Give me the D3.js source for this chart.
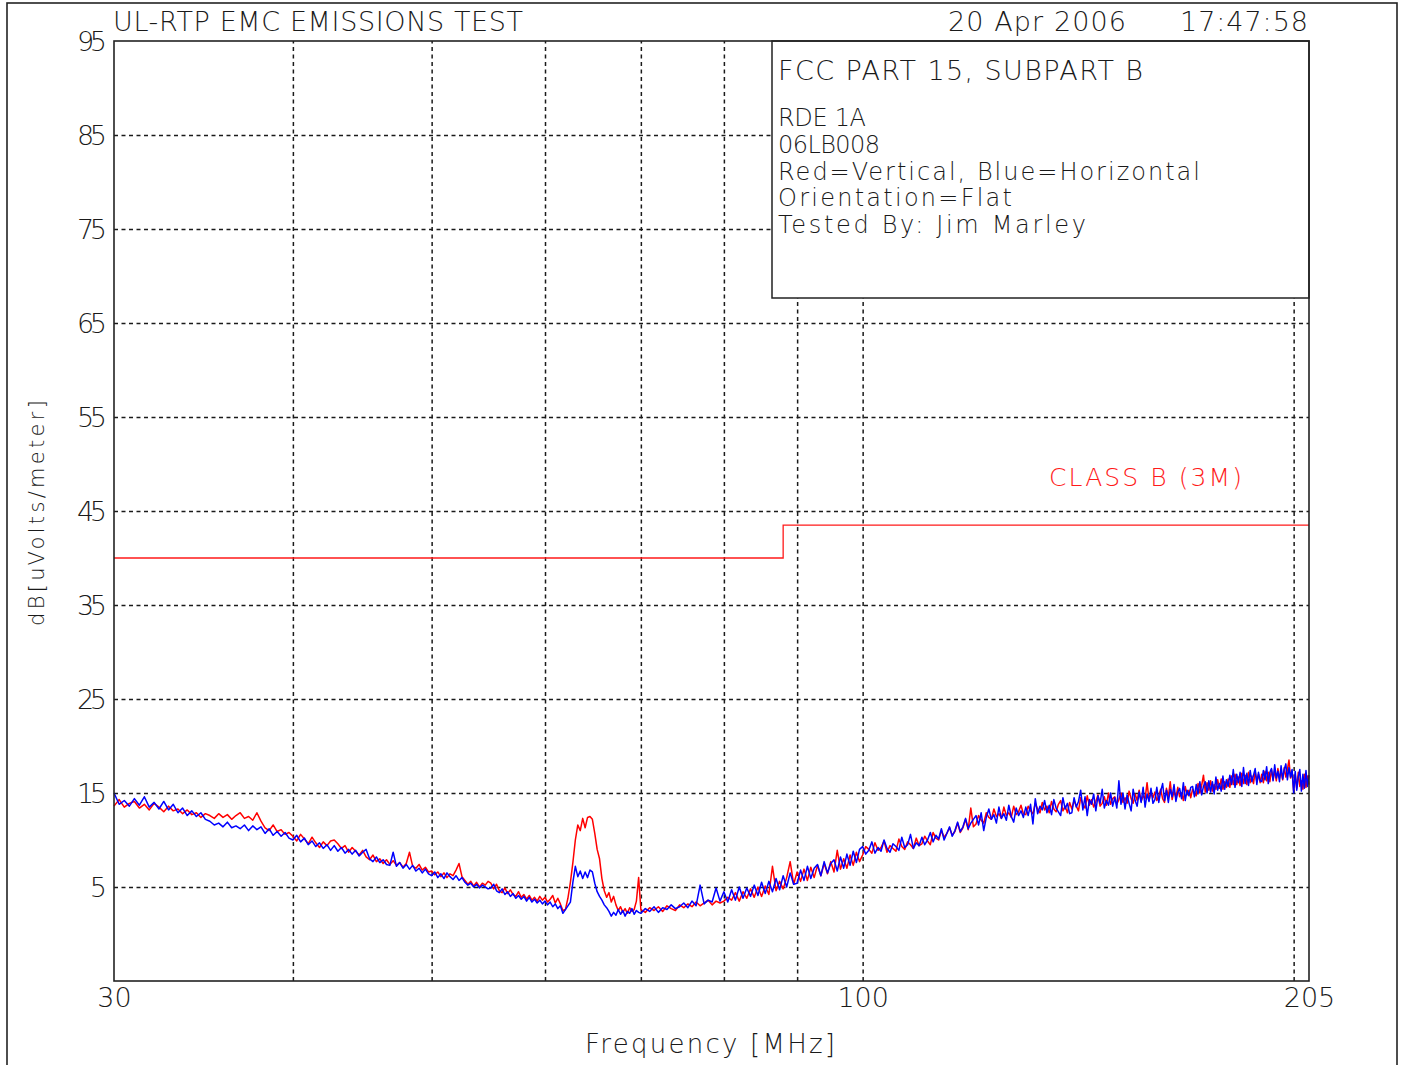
<!DOCTYPE html>
<html><head><meta charset="utf-8">
<script src="https://cdn.jsdelivr.net/npm/d3@7"></script>
<style>
html,body{margin:0;padding:0;background:#fff;}
svg{display:block;}
text{font-family:"DejaVu Sans",sans-serif;font-weight:200;fill:#1a1a1a;}
</style></head><body>
<svg id="chart" width="1401" height="1065"></svg>
<script>
// Receiver sweep: 0.25 MHz steps up to 70 MHz, 0.5 MHz steps above
const sweepFine = {start: 30, step: 0.25, count: 160};
const sweepCoarse = {start: 70, step: 0.5, count: 271};

// Vertical antenna polarisation, dBuV/m
const redFine = [
  13.6,14.3,13.5,13.9,14.1,13.4,13.8,13.2,13.9,13.5,13.0,13.6,13.1,13.3,12.8,13.2,12.7,12.9,12.4,12.8,
  12.6,12.3,12.8,12.4,12.7,12.2,12.6,12.9,12.3,12.5,12.1,12.9,12.0,11.3,11.0,11.6,10.9,11.1,10.6,10.8,
  10.4,9.9,10.6,10.1,9.6,10.3,9.7,9.2,9.8,9.4,9.9,10.0,9.6,9.1,9.4,8.7,9.2,8.8,8.4,8.9,
  8.2,7.9,8.4,7.7,8.0,7.5,7.9,7.4,7.8,7.3,7.6,7.1,7.5,8.7,7.2,7.0,7.4,6.8,7.1,6.6,
  6.7,6.3,6.6,6.1,6.5,6.0,6.4,6.2,6.8,7.5,6.1,5.7,5.3,5.6,5.1,5.5,5.0,5.4,5.2,5.6,
  5.4,4.8,5.3,4.6,4.4,4.9,4.3,4.7,4.2,4.0,4.5,3.9,4.2,3.7,4.1,3.6,3.9,3.5,4.0,3.6,
  3.9,3.4,3.7,4.1,3.3,3.8,3.2,2.5,2.6,3.8,5.5,7.6,10.0,11.6,11.0,12.3,11.3,12.4,12.5,12.2,
  10.7,9.0,8.0,5.9,4.6,3.9,4.4,3.4,4.0,3.1,2.5,2.9,2.3,2.7,2.2,2.8,2.4,2.6,3.5,6.0
];
const redCoarse = [
  2.6,2.3,2.8,2.5,2.9,2.4,3.0,2.7,2.5,3.1,2.8,3.2,2.9,3.4,3.0,3.3,3.6,3.1,3.5,3.3,
  3.5,3.9,3.6,4.4,3.5,4.5,3.8,4.8,3.9,5.0,4.0,5.1,4.2,7.2,4.6,5.6,4.8,6.0,7.7,5.3,
  6.6,5.6,6.9,5.7,7.1,6.0,7.3,6.2,7.5,6.4,7.7,6.6,8.9,6.9,8.0,7.0,8.4,7.3,8.7,7.7,
  8.4,9.3,9.0,8.6,9.7,8.9,9.2,9.9,8.7,9.4,9.1,8.8,10.1,9.3,9.0,9.8,9.5,9.1,10.2,9.4,
  9.6,10.4,9.9,9.5,10.8,10.2,10.0,11.0,10.3,10.7,11.3,10.5,10.9,11.8,10.8,11.3,12.2,11.1,13.4,11.4,
  11.7,12.6,12.1,11.8,12.9,12.4,12.2,13.3,12.5,12.8,12.3,13.5,12.6,12.9,12.4,13.6,12.7,13.0,13.7,12.8,
  12.7,13.6,13.1,12.8,13.9,13.3,12.9,14.0,13.2,13.6,12.9,14.1,13.3,13.0,13.8,14.2,13.1,13.6,12.9,14.0,
  13.3,14.2,13.6,13.1,14.5,13.8,13.4,14.7,13.7,14.3,13.5,14.1,14.8,13.6,13.9,14.6,13.7,15.0,13.8,14.4,
  14.6,13.8,14.3,15.0,14.0,14.5,13.9,15.2,14.4,13.9,14.9,14.2,15.3,14.1,14.7,14.4,16.1,14.2,15.1,14.5,
  15.1,14.2,14.7,15.4,14.4,14.0,15.5,14.6,16.2,14.3,15.2,14.5,15.6,14.6,15.0,14.2,15.7,14.8,15.3,14.5,
  15.4,15.0,14.7,16.0,15.0,15.8,16.9,15.1,16.1,15.3,16.3,15.2,15.9,15.4,16.4,15.5,16.5,15.4,16.2,15.6,
  16.5,15.6,16.8,15.9,17.0,15.9,16.7,15.8,17.1,16.0,16.9,15.9,17.2,16.1,16.8,16.0,17.3,16.2,17.0,16.1,
  17.0,16.1,17.3,16.3,17.2,16.2,17.5,16.4,17.4,16.3,17.6,16.6,17.3,16.4,17.7,16.7,17.5,18.5,16.6,17.3,
  15.2,16.9,15.5,17.2,15.7,16.3,15.4,17.0,15.6,16.8,15.9
];

// Horizontal antenna polarisation, dBuV/m
const blueFine = [
  15.0,13.8,14.2,13.6,14.4,13.7,14.6,13.5,14.0,13.3,14.1,13.2,13.8,12.9,13.4,12.6,13.1,12.5,12.9,12.2,
  12.0,11.6,11.8,11.4,11.9,11.3,11.5,11.2,11.6,11.0,11.5,11.1,11.4,10.7,11.2,10.5,10.9,10.4,10.8,10.2,
  10.0,10.5,9.8,10.2,9.5,9.9,9.3,9.7,9.1,9.5,8.9,9.4,8.8,9.2,8.6,9.0,8.5,8.9,8.3,8.7,
  9.0,8.0,7.7,8.2,7.6,7.9,7.4,7.3,8.7,7.2,7.6,7.0,7.4,6.9,7.3,6.7,7.0,6.5,6.9,6.4,
  6.2,6.6,6.0,6.4,5.9,6.5,6.1,5.8,6.2,5.7,6.0,5.5,5.2,5.4,5.0,5.3,4.9,5.2,5.0,4.8,
  4.9,5.3,4.6,4.4,4.8,4.2,4.5,4.0,4.3,3.8,4.1,3.7,4.0,3.5,3.9,3.4,3.7,3.3,3.6,3.2,
  3.5,3.1,3.4,2.9,3.2,2.7,3.0,2.2,2.6,3.0,3.4,5.5,7.2,6.1,6.7,5.9,6.6,6.0,6.8,6.6,
  5.4,4.5,4.0,3.6,3.1,2.8,2.4,1.9,2.3,2.0,2.6,2.1,2.5,1.9,2.4,2.2,2.7,2.1,2.5,2.3
];
const blueCoarse = [
  2.2,2.7,2.4,2.9,2.3,2.8,2.6,3.1,2.7,2.9,3.3,2.8,3.5,3.0,5.2,3.2,3.6,3.4,4.9,3.5,
  4.5,3.4,4.7,3.6,5.0,3.8,4.9,4.0,5.2,4.1,5.5,4.3,5.6,4.5,5.9,4.7,6.2,5.0,6.5,5.3,
  5.4,6.8,5.7,7.2,5.9,7.0,7.4,6.2,7.7,6.5,7.5,7.9,6.7,8.2,7.0,8.5,7.3,8.8,7.6,9.0,
  9.3,8.5,8.9,9.8,8.6,9.2,8.8,10.0,9.1,8.7,9.6,9.3,8.9,10.3,9.2,9.5,10.6,9.1,9.7,9.4,
  10.3,9.5,10.0,10.8,9.8,10.5,10.1,11.2,10.0,10.7,11.4,10.4,11.0,11.9,10.9,11.4,12.3,11.2,11.8,12.2,
  12.6,11.6,12.9,11.0,12.4,13.3,12.2,12.7,11.8,13.5,12.3,12.8,12.1,13.7,12.5,11.9,13.4,12.6,13.1,12.4,
  13.5,12.6,13.8,11.7,14.4,12.8,13.6,13.2,14.2,12.9,13.7,12.7,14.3,13.4,13.0,12.6,14.5,13.3,13.9,12.8,
  12.9,14.5,13.5,14.1,15.3,13.2,14.6,12.6,14.3,13.8,14.9,13.1,14.7,13.9,15.4,13.4,14.2,13.7,15.0,13.6,
  14.5,13.4,16.3,13.8,15.0,13.3,14.8,13.9,13.1,15.4,14.2,13.6,15.1,14.0,15.6,13.5,14.9,14.1,15.5,13.9,
  14.3,15.6,14.0,15.2,16.0,14.2,15.3,14.0,15.4,14.6,15.9,14.1,15.1,15.5,14.4,16.1,14.2,15.3,14.7,15.6,
  15.7,14.6,15.9,14.9,16.2,14.8,15.7,16.2,15.0,16.3,15.1,16.2,14.9,16.7,15.3,16.0,15.2,16.8,15.4,16.4,
  15.7,16.9,15.9,17.5,15.6,17.0,16.1,17.2,15.7,17.7,16.0,17.1,15.8,17.4,16.2,16.9,17.6,15.9,17.2,16.3,
  16.2,17.4,16.4,17.8,16.0,17.2,17.6,16.3,18.0,16.6,17.3,16.2,17.9,16.5,17.5,18.1,16.4,17.7,16.7,17.5,
  15.0,17.3,15.3,16.7,17.5,15.2,17.0,15.5,17.4,15.7,16.9
];

// FCC Part 15 Class B radiated limit at 3 m
const limitFreq = [30, 88, 88, 205];
const limitLevel = [40, 40, 43.5, 43.5];

const yTickValues = [95, 85, 75, 65, 55, 45, 35, 25, 15, 5];
const yGridValues = [85, 75, 65, 55, 45, 35, 25, 15, 5];
const xGridValues = [40, 50, 60, 70, 80, 90, 100, 200];
const xTickValues = [30, 100, 205];

const infoLines = ["RDE 1A", "06LB008", "Red=Vertical, Blue=Horizontal", "Orientation=Flat", "Tested By: Jim Marley"];
const infoWidths = [88, 102, 422, 234, 308];

const svg = d3.select("#chart");
const plot = {left: 114, right: 1309, top: 41, bottom: 981};

const x = d3.scaleLog().domain([30, 205]).range([plot.left, plot.right]);
const y = d3.scaleLinear().domain([-5, 95]).range([plot.bottom, plot.top]);

const sweep = s => d3.range(s.count).map(i => s.start + i * s.step);
const freqs = sweep(sweepFine).concat(sweep(sweepCoarse));
const redLevels = redFine.concat(redCoarse);
const blueLevels = blueFine.concat(blueCoarse);
const redTrace = freqs.map((f, i) => [f, redLevels[i]]);
const blueTrace = freqs.map((f, i) => [f, blueLevels[i]]);

// page frame
svg.append("rect").attr("x", 7).attr("y", 3).attr("width", 1390).attr("height", 1080)
  .attr("fill", "none").attr("stroke", "#222").attr("stroke-width", 1.6);

// dashed grid
const gridY = svg.append("g").attr("transform", `translate(${plot.left},0)`)
  .call(d3.axisLeft(y).tickValues(yGridValues).tickSize(-(plot.right - plot.left)).tickFormat(""));
const gridX = svg.append("g").attr("transform", `translate(0,${plot.bottom})`)
  .call(d3.axisBottom(x).tickValues(xGridValues).tickSize(-(plot.bottom - plot.top)).tickFormat(""));
[gridY, gridX].forEach(g => {
  g.select(".domain").remove();
  g.selectAll(".tick line").attr("stroke", "#1a1a1a").attr("stroke-width", 1.5).attr("stroke-dasharray", "4,3.5");
});

// limit line
const line = d3.line().x(d => x(d[0])).y(d => y(d[1]));
svg.append("path").datum(limitFreq.map((f, i) => [f, limitLevel[i]]))
  .attr("d", line).attr("fill", "none").attr("stroke", "#ff1a1a").attr("stroke-width", 1.3);

// info box
const boxX = 772, boxY = plot.top, boxB = 298;
svg.append("rect").attr("x", boxX).attr("y", boxY).attr("width", plot.right - boxX).attr("height", boxB - boxY)
  .attr("fill", "#fff").attr("stroke", "#222").attr("stroke-width", 1.5);

// traces
svg.append("path").datum(redTrace).attr("d", line).attr("fill", "none")
  .attr("stroke", "#ff0000").attr("stroke-width", 1.5).attr("stroke-linejoin", "round");
svg.append("path").datum(blueTrace).attr("d", line).attr("fill", "none")
  .attr("stroke", "#0000ff").attr("stroke-width", 1.5).attr("stroke-linejoin", "round");

// plot border
svg.append("rect").attr("x", plot.left).attr("y", plot.top)
  .attr("width", plot.right - plot.left).attr("height", plot.bottom - plot.top)
  .attr("fill", "none").attr("stroke", "#222").attr("stroke-width", 1.6);

function label(str, px, py, size, opts = {}) {
  const t = svg.append("text").attr("x", px).attr("y", py).attr("font-size", size).text(str);
  if (opts.anchor) t.attr("text-anchor", opts.anchor);
  if (opts.len) t.attr("textLength", opts.len).attr("lengthAdjust", "spacing");
  if (opts.fill) t.style("fill", opts.fill);
  if (opts.rotate) t.attr("transform", `rotate(${opts.rotate},${px},${py})`);
  return t;
}

// axis tick labels
const yAxis = svg.append("g").attr("transform", `translate(${plot.left - 7},0)`)
  .call(d3.axisLeft(y).tickValues(yTickValues).tickSize(0).tickPadding(0));
yAxis.select(".domain").remove();
yAxis.selectAll("text").attr("font-size", 27).attr("font-family", null).attr("dy", "0.36em")
  .attr("textLength", 30).attr("lengthAdjust", "spacing");

const xAxis = svg.append("g").attr("transform", `translate(0,${plot.bottom})`)
  .call(d3.axisBottom(x).tickValues(xTickValues).tickFormat(d3.format("d")).tickSize(0).tickPadding(0));
xAxis.select(".domain").remove();
xAxis.selectAll("text").attr("font-size", 27).attr("font-family", null).attr("dy", "0.95em");

// header
label("UL-RTP EMC EMISSIONS TEST", 113, 31, 27, {len: 410});
label("20 Apr 2006", 948, 31, 27, {len: 178});
label("17:47:58", 1180, 31, 27, {len: 128});

// info text
label("FCC PART 15, SUBPART B", 778, 80, 27, {len: 365});
infoLines.forEach((s, i) => label(s, 778, 126 + i * 26.8, 24, {len: infoWidths[i]}));

// limit caption
label("CLASS B (3M)", 1049, 486, 25, {len: 193, fill: "#ff1a1a"});

// axis titles
label("Frequency [MHz]", 585, 1053, 26, {len: 250});
label("dB[uVolts/meter]", 44, 626, 21, {len: 226, rotate: -90});
</script>
</body></html>
